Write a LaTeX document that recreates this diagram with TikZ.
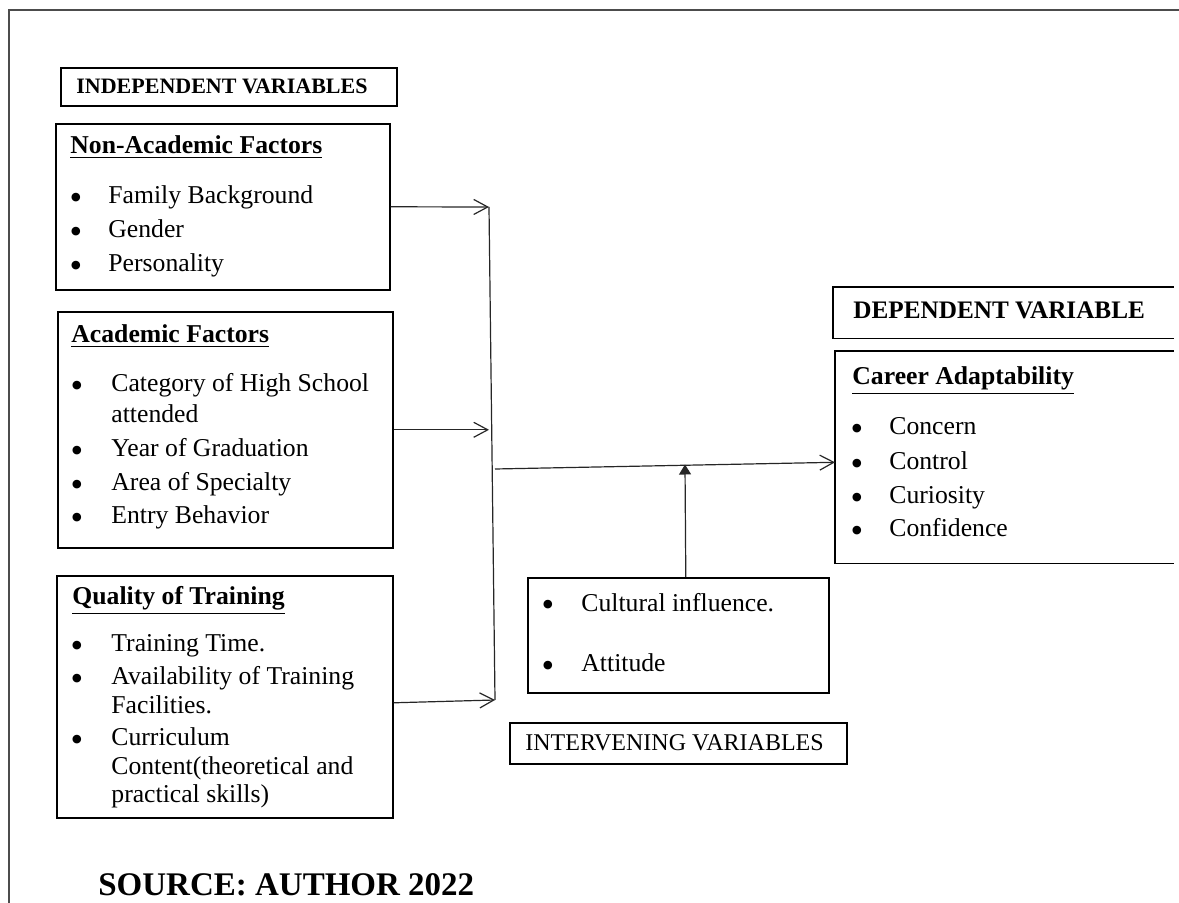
\documentclass[tikz,border=0pt]{standalone}
\usepackage{fontspec}
\setmainfont{Liberation Serif}
\usetikzlibrary{arrows.meta,calc}
\newcommand\mybox[6][]{\node[box,#1,minimum width={(#5-#3)*0.5pt},minimum height={(#6-#4)*0.5pt}] (#2) at (#3,#4) {};}
\newcommand\mytext[5][txt]{\node[#1] (#2) at (#3,#4) {#5};}
\newcommand\mybul[3]{\node[bul] (#1) at (#2,#3+6) {\textbullet};}
\begin{document}
\begin{tikzpicture}[x=0.5pt,y=-0.5pt,
  box/.style={draw=black, line width=0.8pt, inner sep=0pt, anchor=north west},
  txt/.style={inner sep=0pt, anchor=base west, font=\fontsize{12.85}{15}\selectfont},
  ttl/.style={txt, font=\fontsize{12.85}{15}\selectfont\bfseries},
  hdr/.style={txt, font=\fontsize{11}{13}\selectfont\bfseries},
  dhdr/.style={txt, font=\fontsize{12.6}{15}\selectfont\bfseries},
  ihdr/.style={txt, font=\fontsize{12}{14}\selectfont},
  src/.style={txt, font=\fontsize{16.5}{19}\selectfont\bfseries},
  bul/.style={inner sep=0pt, anchor=base, font=\fontsize{18}{18}\selectfont},
  conn/.style={line width=0.6pt, draw=black!85},
  arr/.style={conn, -{Straight Barb[length=7pt,width=7.5pt,line width=0.6pt]}},
  uparr/.style={conn, -{Triangle[length=5pt,width=6pt]}}]
\useasboundingbox (0,0) rectangle (1179,903);
% outer frame
\draw[line width=1pt, draw=black!70] (1179,10) -- (9,10) -- (9,903);

% boxes
\mybox{indep}{60}{67}{396}{105}
\mybox{nonacad}{55}{123}{389}{289}
\mybox{acad}{57}{311}{392}{547}
\mybox{qual}{56}{575}{392}{817}
\mybox{interv}{527}{577}{828}{692}
\mybox{intervlbl}{509}{722}{846}{763}
\mybox[draw=none]{dep}{833}{287}{1172}{337}
\mybox[draw=none]{career}{835}{351}{1172}{562}
\draw[line width=0.8pt] (dep.north east) -- (dep.north west) -- (dep.south west) -- (dep.south east);
\draw[line width=0.8pt] (career.north east) -- (career.north west) -- (career.south west) -- (career.south east);

% headers
\mytext[hdr]{indeptxt}{76}{94}{INDEPENDENT VARIABLES}
\mytext[dhdr]{deptxt}{853}{319}{DEPENDENT VARIABLE}
\mytext[ihdr]{intervtxt}{525}{750}{INTERVENING VARIABLES}
\mytext[src]{source}{98}{895}{SOURCE: AUTHOR 2022}

% non-academic
\mytext[ttl]{na0}{70}{154}{\underline{Non-Academic Factors}}
\mybul{nab1}{76}{204}\mytext{na1}{108}{204}{Family Background}
\mybul{nab2}{76}{238}\mytext{na2}{108}{238}{Gender}
\mybul{nab3}{76}{272}\mytext{na3}{108}{272}{Personality}

% academic
\mytext[ttl]{ac0}{71}{343}{\underline{Academic Factors}}
\mybul{acb1}{77}{392}\mytext{ac1}{111}{392}{Category of High School}
\mytext{ac1b}{111}{423}{attended}
\mybul{acb2}{77}{457}\mytext{ac2}{111}{457}{Year of Graduation}
\mybul{acb3}{77}{491}\mytext{ac3}{111}{491}{Area of Specialty}
\mybul{acb4}{77}{524}\mytext{ac4}{111}{524}{Entry Behavior}

% quality
\mytext[ttl]{qu0}{72}{605}{\underline{Quality of Training}}
\mybul{qub1}{77}{652}\mytext{qu1}{111}{652}{Training Time.}
\mybul{qub2}{77}{684}\mytext{qu2}{111}{684}{Availability of Training}
\mytext{qu2b}{111}{713}{Facilities.}
\mybul{qub3}{77}{745}\mytext{qu3}{111}{745}{Curriculum}
\mytext{qu3b}{111}{774}{Content(theoretical and}
\mytext{qu3c}{111}{802}{practical skills)}

% intervening
\mybul{inb1}{548}{611}\mytext{in1}{581}{611}{Cultural influence.}
\mybul{inb2}{548}{671}\mytext{in2}{581}{671}{Attitude}

% career
\mytext[ttl]{ca0}{852}{385}{\underline{Career Adaptability}}
\mybul{cab1}{857}{435}\mytext{ca1}{889}{435}{Concern}
\mybul{cab2}{857}{470}\mytext{ca2}{889}{470}{Control}
\mybul{cab3}{857}{504}\mytext{ca3}{889}{504}{Curiosity}
\mybul{cab4}{857}{537}\mytext{ca4}{889}{537}{Confidence}

% connectors
\coordinate (jtop) at (489,207);
\coordinate (jbot) at (495,700);
\coordinate (jmid) at (495,469);
\coordinate (upt) at (685,464.5);
\draw[conn] (jtop) -- (jbot);
\draw[arr] (nonacad.east) -- (jtop);
\draw[arr] (acad.east) -- (acad.east -| jtop);
\draw[arr] ([yshift=-3pt]qual.east) -- (jbot);
\draw[arr] (jmid) -- ([yshift=-2.5pt]career.west);
\draw[uparr] ([xshift=3.75pt]interv.north) -- (upt);
\end{tikzpicture}
\end{document}
